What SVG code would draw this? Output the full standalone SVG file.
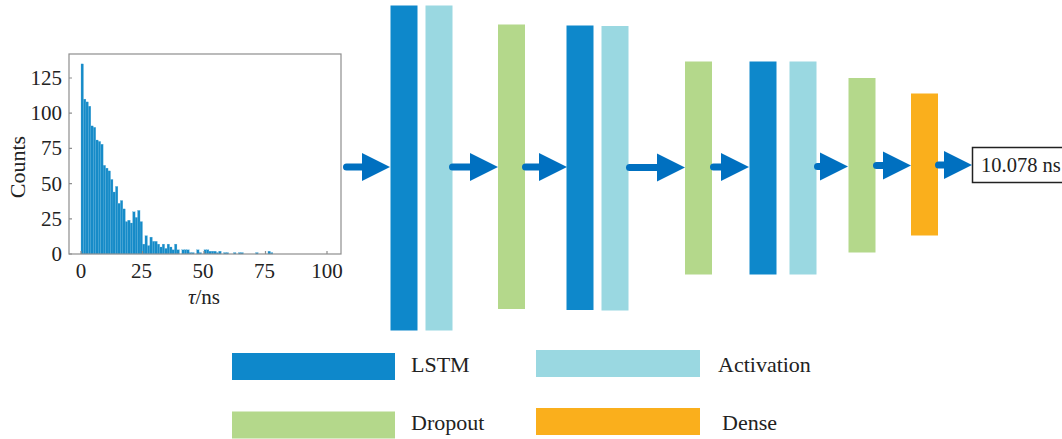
<svg xmlns="http://www.w3.org/2000/svg" width="1062" height="439" viewBox="0 0 1062 439">
  <style>
    .lbl { font-family: "Liberation Serif", "Times New Roman", serif; fill: #222; }
    .tick { font-size: 21px; }
    .leg { font-size: 22px; }
    .lstm { fill: #0E88CB; }
    .act { fill: #9AD8E1; }
    .drop { fill: #B4D88B; }
    .dense { fill: #FAAF1C; }
    .bar { fill: #168BC8; stroke: #5AAED9; stroke-width: 0.25; }
    .axis { fill: none; stroke: #8E8E8E; stroke-width: 1.2; }
    .flow { stroke: #0070C0; stroke-width: 7; stroke-linecap: round; fill: none; marker-end: url(#head); }
  </style>
  <defs>
    <marker id="head" markerUnits="userSpaceOnUse" markerWidth="28" markerHeight="28" refX="4" refY="14" orient="auto" overflow="visible">
      <path d="M0,0 L28,14 L0,28 Z" fill="#0070C0"/>
    </marker>
  </defs>
  <rect width="1062" height="439" fill="#fff"/>

  <!-- input: lifetime histogram -->
  <g id="input-histogram">
    <g class="bars">
      <rect class="bar" x="81.00" y="63.9" width="2.46" height="190.1"/>
      <rect class="bar" x="83.46" y="99.1" width="2.46" height="154.9"/>
      <rect class="bar" x="85.92" y="101.9" width="2.46" height="152.1"/>
      <rect class="bar" x="88.38" y="106.2" width="2.46" height="147.8"/>
      <rect class="bar" x="90.84" y="125.9" width="2.46" height="128.1"/>
      <rect class="bar" x="93.30" y="127.3" width="2.46" height="126.7"/>
      <rect class="bar" x="95.76" y="140.0" width="2.46" height="114.0"/>
      <rect class="bar" x="98.22" y="141.4" width="2.46" height="112.6"/>
      <rect class="bar" x="100.68" y="144.2" width="2.46" height="109.8"/>
      <rect class="bar" x="103.14" y="165.3" width="2.46" height="88.7"/>
      <rect class="bar" x="105.60" y="168.1" width="2.46" height="85.9"/>
      <rect class="bar" x="108.06" y="170.9" width="2.46" height="83.1"/>
      <rect class="bar" x="110.52" y="179.4" width="2.46" height="74.6"/>
      <rect class="bar" x="112.98" y="192.0" width="2.46" height="62.0"/>
      <rect class="bar" x="115.44" y="186.4" width="2.46" height="67.6"/>
      <rect class="bar" x="117.90" y="203.3" width="2.46" height="50.7"/>
      <rect class="bar" x="120.36" y="200.5" width="2.46" height="53.5"/>
      <rect class="bar" x="122.82" y="208.9" width="2.46" height="45.1"/>
      <rect class="bar" x="125.28" y="221.6" width="2.46" height="32.4"/>
      <rect class="bar" x="127.74" y="220.2" width="2.46" height="33.8"/>
      <rect class="bar" x="130.20" y="223.0" width="2.46" height="31.0"/>
      <rect class="bar" x="132.66" y="211.8" width="2.46" height="42.2"/>
      <rect class="bar" x="135.12" y="217.4" width="2.46" height="36.6"/>
      <rect class="bar" x="137.58" y="210.4" width="2.46" height="43.6"/>
      <rect class="bar" x="140.04" y="221.6" width="2.46" height="32.4"/>
      <rect class="bar" x="142.50" y="244.1" width="2.46" height="9.9"/>
      <rect class="bar" x="144.96" y="235.7" width="2.46" height="18.3"/>
      <rect class="bar" x="147.42" y="245.6" width="2.46" height="8.4"/>
      <rect class="bar" x="149.88" y="237.1" width="2.46" height="16.9"/>
      <rect class="bar" x="152.34" y="241.3" width="2.46" height="12.7"/>
      <rect class="bar" x="154.80" y="241.3" width="2.46" height="12.7"/>
      <rect class="bar" x="157.26" y="244.1" width="2.46" height="9.9"/>
      <rect class="bar" x="159.72" y="247.0" width="2.46" height="7.0"/>
      <rect class="bar" x="162.18" y="244.1" width="2.46" height="9.9"/>
      <rect class="bar" x="164.64" y="248.4" width="2.46" height="5.6"/>
      <rect class="bar" x="167.10" y="244.1" width="2.46" height="9.9"/>
      <rect class="bar" x="169.56" y="247.0" width="2.46" height="7.0"/>
      <rect class="bar" x="172.02" y="249.8" width="2.46" height="4.2"/>
      <rect class="bar" x="174.48" y="244.1" width="2.46" height="9.9"/>
      <rect class="bar" x="176.94" y="249.8" width="2.46" height="4.2"/>
      <rect class="bar" x="181.86" y="249.8" width="2.46" height="4.2"/>
      <rect class="bar" x="184.32" y="249.8" width="2.46" height="4.2"/>
      <rect class="bar" x="186.78" y="249.8" width="2.46" height="4.2"/>
      <rect class="bar" x="189.24" y="252.6" width="2.46" height="1.4"/>
      <rect class="bar" x="191.70" y="252.6" width="2.46" height="1.4"/>
      <rect class="bar" x="196.62" y="249.8" width="2.46" height="4.2"/>
      <rect class="bar" x="199.08" y="252.6" width="2.46" height="1.4"/>
      <rect class="bar" x="204.00" y="249.8" width="2.46" height="4.2"/>
      <rect class="bar" x="206.46" y="249.8" width="2.46" height="4.2"/>
      <rect class="bar" x="208.92" y="251.2" width="2.46" height="2.8"/>
      <rect class="bar" x="211.38" y="251.2" width="2.46" height="2.8"/>
      <rect class="bar" x="213.84" y="251.2" width="2.46" height="2.8"/>
      <rect class="bar" x="216.30" y="252.6" width="2.46" height="1.4"/>
      <rect class="bar" x="218.76" y="251.2" width="2.46" height="2.8"/>
      <rect class="bar" x="223.68" y="252.6" width="2.46" height="1.4"/>
      <rect class="bar" x="226.14" y="252.6" width="2.46" height="1.4"/>
      <rect class="bar" x="233.52" y="252.6" width="2.46" height="1.4"/>
      <rect class="bar" x="238.44" y="252.6" width="2.46" height="1.4"/>
      <rect class="bar" x="240.90" y="252.6" width="2.46" height="1.4"/>
      <rect class="bar" x="255.66" y="252.6" width="2.46" height="1.4"/>
      <rect class="bar" x="267.96" y="251.2" width="2.46" height="2.8"/>
      <rect class="bar" x="270.42" y="252.6" width="2.46" height="1.4"/>
    </g>
    <!-- axes frame and ticks -->
    <rect class="axis" x="69" y="54" width="272" height="200"/>
    <path class="axis" d="M81,254 v-3 M142.5,254 v-3 M204,254 v-3 M265.5,254 v-3 M327,254 v-3
                          M69,254 h3 M69,218.8 h3 M69,183.6 h3 M69,148.4 h3 M69,113.2 h3 M69,78 h3"/>
    <g class="lbl tick" text-anchor="end">
      <text x="62" y="261">0</text>
      <text x="62" y="225.8">25</text>
      <text x="62" y="190.6">50</text>
      <text x="62" y="155.4">75</text>
      <text x="62" y="120.2">100</text>
      <text x="62" y="85">125</text>
    </g>
    <g class="lbl tick" text-anchor="middle">
      <text x="81" y="278">0</text>
      <text x="141.5" y="278">25</text>
      <text x="203" y="278">50</text>
      <text x="264.5" y="278">75</text>
      <text x="327" y="278">100</text>
    </g>
    <text class="lbl" font-size="22" text-anchor="middle" transform="translate(25,167) rotate(-90)">Counts</text>
    <text class="lbl" font-size="21" x="204" y="304" text-anchor="middle"><tspan font-style="italic">τ</tspan>/ns</text>
  </g>

  <!-- network layers -->
  <g id="lstm-1"><rect class="lstm" x="390.5" y="5.5" width="27" height="325"/></g>
  <g id="activation-1"><rect class="act" x="425.5" y="5.5" width="27" height="325"/></g>
  <g id="dropout-1"><rect class="drop" x="498" y="24.5" width="27" height="284.5"/></g>
  <g id="lstm-2"><rect class="lstm" x="566.5" y="25.5" width="27" height="284.5"/></g>
  <g id="activation-2"><rect class="act" x="601.5" y="26" width="27" height="284.5"/></g>
  <g id="dropout-2"><rect class="drop" x="685" y="61.5" width="27" height="213"/></g>
  <g id="lstm-3"><rect class="lstm" x="749.5" y="61.5" width="27" height="213"/></g>
  <g id="activation-3"><rect class="act" x="789.5" y="61.5" width="27" height="213"/></g>
  <g id="dropout-3"><rect class="drop" x="848.5" y="78" width="27" height="174.5"/></g>
  <g id="dense"><rect class="dense" x="911" y="93.5" width="27" height="142"/></g>

  <!-- output value -->
  <g id="output">
    <rect x="972.5" y="147.5" width="100" height="35" fill="#fff" stroke="#222" stroke-width="1.5"/>
    <text class="lbl" font-size="20.5" x="981" y="172">10.078 ns</text>
  </g>

  <!-- data flow between stages -->
  <g id="connectors">
    <line class="flow" x1="346.5" y1="167" x2="366" y2="167"/>
    <line class="flow" x1="452.5" y1="167" x2="474" y2="167"/>
    <line class="flow" x1="525.5" y1="167" x2="543" y2="167"/>
    <line class="flow" x1="629.5" y1="167.5" x2="661" y2="167.5"/>
    <line class="flow" x1="713.5" y1="167" x2="725" y2="167"/>
    <line class="flow" x1="817.5" y1="166.5" x2="824" y2="166.5"/>
    <line class="flow" x1="876.5" y1="165.5" x2="887" y2="165.5"/>
    <line class="flow" x1="938.5" y1="165" x2="948" y2="165"/>
  </g>

  <!-- legend -->
  <g id="legend">
    <g id="legend-lstm">
      <rect class="lstm" x="232" y="353" width="163" height="27"/>
      <text class="lbl leg" x="411" y="372">LSTM</text>
    </g>
    <g id="legend-activation">
      <rect class="act" x="536" y="350" width="164" height="27"/>
      <text class="lbl leg" x="718" y="372">Activation</text>
    </g>
    <g id="legend-dropout">
      <rect class="drop" x="232" y="411.5" width="163" height="27"/>
      <text class="lbl leg" x="411" y="430">Dropout</text>
    </g>
    <g id="legend-dense">
      <rect class="dense" x="536" y="408" width="164" height="27"/>
      <text class="lbl leg" x="722" y="430">Dense</text>
    </g>
  </g>
</svg>
